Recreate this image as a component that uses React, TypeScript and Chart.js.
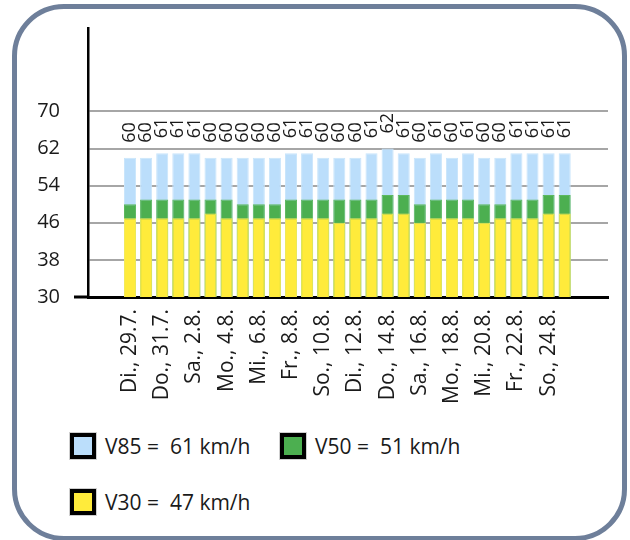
import React, { useEffect, useRef } from "react";
import { Chart, registerables } from "chart.js";

Chart.register(...registerables);

const categories = [
  "Di., 29.7.", "Mi., 30.7.", "Do., 31.7.", "Fr., 1.8.", "Sa., 2.8.", "So., 3.8.", "Mo., 4.8.",
  "Di., 5.8.", "Mi., 6.8.", "Do., 7.8.", "Fr., 8.8.", "Sa., 9.8.", "So., 10.8.", "Mo., 11.8.",
  "Di., 12.8.", "Mi., 13.8.", "Do., 14.8.", "Fr., 15.8.", "Sa., 16.8.", "So., 17.8.", "Mo., 18.8.",
  "Di., 19.8.", "Mi., 20.8.", "Do., 21.8.", "Fr., 22.8.", "Sa., 23.8.", "So., 24.8.", "Mo., 25.8.",
];

const v85 = [60, 60, 61, 61, 61, 60, 60, 60, 60, 60, 61, 61, 60, 60, 60, 61, 62, 61, 60, 61, 60, 61, 60, 60, 61, 61, 61, 61];
const v50 = [50, 51, 51, 51, 51, 51, 51, 50, 50, 50, 51, 51, 51, 51, 51, 51, 52, 52, 50, 51, 51, 51, 50, 50, 51, 51, 52, 52];
const v30 = [47, 47, 47, 47, 47, 48, 47, 47, 47, 47, 47, 47, 47, 46, 47, 47, 48, 48, 46, 47, 47, 47, 46, 47, 47, 47, 48, 48];

const yTicks = [30, 38, 46, 54, 62, 70];

const legendItems = [
  { label: "V85 =  61 km/h", color: "#BBDEFB" },
  { label: "V50 =  51 km/h", color: "#4CAF50" },
  { label: "V30 =  47 km/h", color: "#FFEB3B" },
];

const FONT = "'Open Sans', 'Noto Sans', sans-serif";

const valueLabelPlugin = {
  id: "valueLabels",
  afterDatasetsDraw(chart: any) {
    const ctx = chart.ctx;
    const meta = chart.getDatasetMeta(0);
    ctx.save();
    ctx.font = `18px ${FONT}`;
    ctx.fillStyle = "#1a1a1a";
    ctx.textAlign = "left";
    ctx.textBaseline = "middle";
    meta.data.forEach((el: any, i: number) => {
      ctx.save();
      ctx.translate(el.x, el.y - 15);
      ctx.rotate(-Math.PI / 2);
      ctx.fillText(String(v85[i]), 0, 0);
      ctx.restore();
    });
    ctx.restore();
  },
};

export default function App() {
  const ref = useRef<HTMLCanvasElement | null>(null);

  useEffect(() => {
    if (!ref.current) return;
    const mk = (arr: number[]) => arr.map((y, i) => ({ x: i, y }));
    const chart = new Chart(ref.current, {
      type: "bar",
      data: {
        datasets: [
          { label: "V85", data: mk(v85), backgroundColor: "#BBDEFB", borderColor: "#C9E5FB", borderWidth: 1, order: 3 },
          { label: "V50", data: mk(v50), backgroundColor: "#4CAF50", borderColor: "#5DB85F", borderWidth: 1, order: 2 },
          { label: "V30", data: mk(v30), backgroundColor: "#FFEB3B", borderColor: "#F2EA5C", borderWidth: 1, order: 1 },
        ],
      },
      options: {
        animation: false,
        responsive: true,
        maintainAspectRatio: false,
        events: [],
        layout: { padding: { left: 0, top: 28, right: 22, bottom: 0 } },
        datasets: { bar: { grouped: false, barPercentage: 0.75, categoryPercentage: 1 } },
        plugins: { legend: { display: false }, tooltip: { enabled: false } },
        scales: {
          x: {
            type: "linear",
            offset: false,
            min: -2.61,
            max: 29.69,
            grid: { display: false, drawTicks: false },
            border: { display: true, color: "#000", width: 3 },
            afterBuildTicks: (scale: any) => {
              scale.ticks = categories.map((_, i) => i).filter((i) => i % 2 === 0).map((v) => ({ value: v }));
            },
            afterFit: (scale: any) => {
              scale.height = 123;
            },
            ticks: {
              autoSkip: false,
              minRotation: 90,
              maxRotation: 90,
              padding: 12,
              color: "#1a1a1a",
              font: { family: FONT, size: 21 },
              callback: (v: any) => categories[v] ?? "",
            },
          },
          y: {
            min: 30,
            max: 88,
            afterBuildTicks: (scale: any) => {
              scale.ticks = yTicks.map((v) => ({ value: v }));
            },
            afterFit: (scale: any) => {
              scale.width = 88;
            },
            grid: {
              color: (c: any) => (c.tick && c.tick.value === 30 ? "#000" : "#A6A6A6"),
              tickColor: (c: any) => (c.tick && c.tick.value === 30 ? "#000" : "rgba(0,0,0,0)"),
              lineWidth: 2,
              tickWidth: 3,
              tickLength: 14,
              drawTicks: true,
            },
            border: { display: true, color: "#000", width: 2.5 },
            ticks: {
              padding: 14,
              color: "#1a1a1a",
              font: { family: FONT, size: 20 },
            },
          },
        },
      },
      plugins: [valueLabelPlugin],
    } as any);
    return () => chart.destroy();
  }, []);

  const square = (color: string) => ({
    width: 18,
    height: 18,
    background: color,
    border: "4px solid #000",
    boxShadow: "0 0 0 1px #cfcfcf",
    flex: "none" as const,
  });

  const legendText: React.CSSProperties = {
    fontFamily: FONT,
    fontSize: 21,
    color: "#1a1a1a",
    whiteSpace: "pre",
    marginLeft: 9,
    lineHeight: "26px",
  };

  return (
    <div style={{ position: "absolute", left: 0, top: 0, width: 630, height: 540, overflow: "hidden", background: "#fff" }}>
      <div
        style={{
          position: "absolute",
          left: 12,
          top: 4,
          width: 615,
          height: 537,
          boxSizing: "border-box",
          border: "5px solid #6E7F9A",
          borderRadius: 52,
        }}
      />
      <div style={{ position: "absolute", left: 0, top: 0, width: 630, height: 420 }}>
        <canvas ref={ref} />
      </div>
      <div style={{ position: "absolute", left: 70, top: 433, display: "flex", alignItems: "center" }}>
        <div style={square(legendItems[0].color)} />
        <span style={legendText}>{legendItems[0].label}</span>
      </div>
      <div style={{ position: "absolute", left: 280, top: 433, display: "flex", alignItems: "center" }}>
        <div style={square(legendItems[1].color)} />
        <span style={legendText}>{legendItems[1].label}</span>
      </div>
      <div style={{ position: "absolute", left: 70, top: 489, display: "flex", alignItems: "center" }}>
        <div style={square(legendItems[2].color)} />
        <span style={legendText}>{legendItems[2].label}</span>
      </div>
    </div>
  );
}
